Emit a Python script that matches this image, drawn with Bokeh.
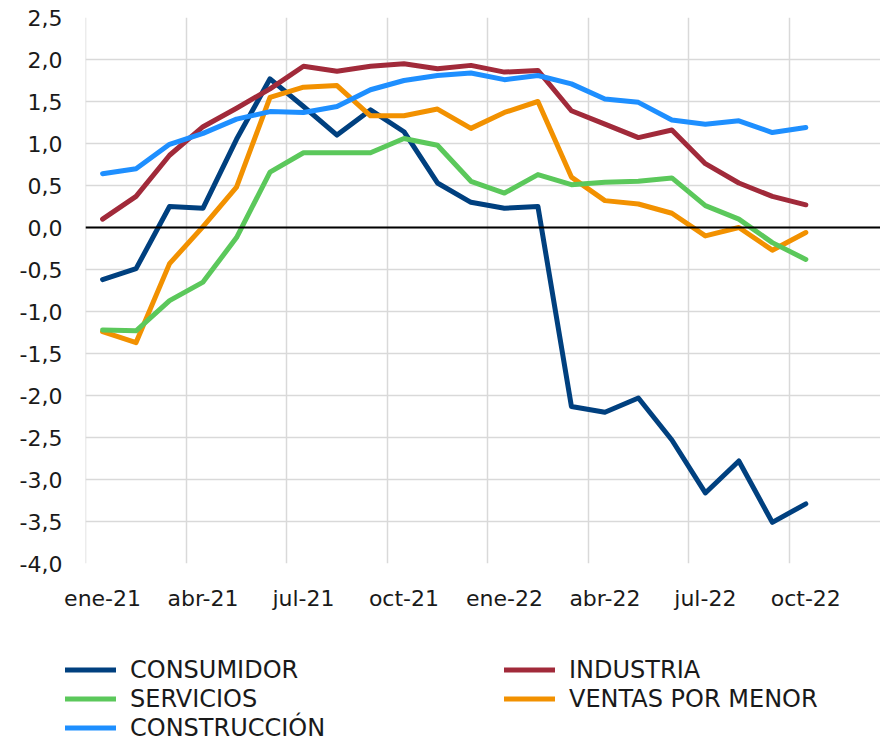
from bokeh.plotting import figure
from bokeh.models import (FixedTicker, CustomJSTickFormatter, Span, Legend, LegendItem, Range1d)
from bokeh.embed import file_html
from bokeh.resources import INLINE

months = ["ene-21", "feb-21", "mar-21", "abr-21", "may-21", "jun-21", "jul-21", "ago-21",
          "sep-21", "oct-21", "nov-21", "dic-21", "ene-22", "feb-22", "mar-22", "abr-22",
          "may-22", "jun-22", "jul-22", "ago-22", "sep-22", "oct-22"]

consumidor = [-0.62, -0.49, 0.25, 0.23, 1.05, 1.77, 1.44, 1.10, 1.40, 1.14, 0.53, 0.30,
              0.23, 0.25, -2.13, -2.20, -2.03, -2.53, -3.16, -2.78, -3.51, -3.29]
industria = [0.10, 0.37, 0.86, 1.20, 1.42, 1.65, 1.92, 1.86, 1.92, 1.95, 1.89, 1.93,
             1.85, 1.87, 1.39, 1.23, 1.07, 1.16, 0.76, 0.53, 0.37, 0.27]
servicios = [-1.22, -1.23, -0.87, -0.65, -0.12, 0.66, 0.89, 0.89, 0.89, 1.06, 0.98, 0.55,
             0.41, 0.63, 0.51, 0.54, 0.55, 0.59, 0.26, 0.10, -0.18, -0.38]
ventas = [-1.24, -1.37, -0.43, 0.01, 0.48, 1.55, 1.67, 1.69, 1.33, 1.33, 1.41, 1.18,
          1.37, 1.50, 0.60, 0.32, 0.28, 0.17, -0.10, 0.00, -0.27, -0.06]
construccion = [0.64, 0.70, 0.99, 1.12, 1.29, 1.38, 1.37, 1.44, 1.64, 1.75, 1.81, 1.84,
                1.76, 1.81, 1.71, 1.53, 1.49, 1.28, 1.23, 1.27, 1.13, 1.19]

series_names = ["CONSUMIDOR", "INDUSTRIA", "SERVICIOS", "VENTAS POR MENOR", "CONSTRUCCIÓN"]
colors = ["#00407F", "#A12A3A", "#5BC85B", "#F29100", "#1E8FFF"]

y_ticks = [-4.0, -3.5, -3.0, -2.5, -2.0, -1.5, -1.0, -0.5, 0.0, 0.5, 1.0, 1.5, 2.0, 2.5]

FONT = "DejaVu Sans"
TEXT_COLOR = "#1a1a1a"

x = list(range(len(months)))
data = {"CONSUMIDOR": consumidor, "INDUSTRIA": industria, "SERVICIOS": servicios,
        "VENTAS POR MENOR": ventas, "CONSTRUCCIÓN": construccion}
draw_order = ["CONSUMIDOR", "INDUSTRIA", "VENTAS POR MENOR", "SERVICIOS", "CONSTRUCCIÓN"]

# ---------------- main chart ----------------
p = figure(width=880, height=645, output_backend="svg", toolbar_location=None,
           x_range=Range1d(-0.51, 23.23), y_range=Range1d(-4.0, 2.5),
           min_border_left=85, min_border_top=17, min_border_right=0, min_border_bottom=82)
p.outline_line_color = None
p.background_fill_color = "white"
p.border_fill_color = "white"

p.xgrid.ticker = FixedTicker(ticks=[-0.5 + 3 * k for k in range(9)])
p.ygrid.ticker = FixedTicker(ticks=y_ticks)
for g in (p.xgrid, p.ygrid):
    g.grid_line_color = "#D9D9D9"
    g.grid_line_width = 1.5

p.xaxis.ticker = FixedTicker(ticks=list(range(0, len(months), 3)))
p.xaxis.major_label_overrides = {i: months[i] for i in range(0, len(months), 3)}
p.yaxis.ticker = FixedTicker(ticks=y_ticks)
p.yaxis.formatter = CustomJSTickFormatter(code="return tick.toFixed(1).replace('.', ',');")
for ax in (p.xaxis, p.yaxis):
    ax.axis_line_color = None
    ax.major_tick_line_color = None
    ax.minor_tick_line_color = None
    ax.major_tick_out = 0
    ax.major_tick_in = 0
    ax.major_label_text_font = FONT
    ax.major_label_text_font_size = "22px"
    ax.major_label_text_color = TEXT_COLOR
p.yaxis.major_label_standoff = 23
p.xaxis.major_label_standoff = 22

p.add_layout(Span(location=0, dimension="width", line_color="black", line_width=2))

for name in draw_order:
    c = colors[series_names.index(name)]
    p.line(x, data[name], line_color=c, line_width=5, line_join="round", line_cap="round")

# ---------------- legend strip ----------------
lf = figure(width=880, height=95, output_backend="svg", toolbar_location=None,
            x_range=Range1d(100, 101), y_range=Range1d(100, 101),
            min_border=0, min_border_left=0, min_border_right=0,
            min_border_top=0, min_border_bottom=0)
lf.outline_line_color = None
lf.axis.visible = False
lf.grid.visible = False
lf.background_fill_color = "white"
lf.border_fill_color = "white"

leg_renderers = {}
for name in series_names:
    c = colors[series_names.index(name)]
    leg_renderers[name] = lf.line(x, data[name], line_color=c, line_width=5,
                                  line_join="round", line_cap="round")

def make_legend(names, loc):
    lg = Legend(items=[LegendItem(label=n, renderers=[leg_renderers[n]]) for n in names],
                location=loc, orientation="vertical")
    lg.background_fill_alpha = 0
    lg.border_line_color = None
    lg.padding = 0
    lg.margin = 0
    lg.spacing = 0
    lg.glyph_width = 51
    lg.glyph_height = 29
    lg.label_height = 29
    lg.label_standoff = 14
    lg.label_text_font = FONT
    lg.label_text_font_size = "24px"
    lg.label_text_color = TEXT_COLOR
    lg.label_text_baseline = "middle"
    return lg

lf.add_layout(make_legend(["CONSUMIDOR", "SERVICIOS", "CONSTRUCCIÓN"], (65, -2)), "center")
lf.add_layout(make_legend(["INDUSTRIA", "VENTAS POR MENOR"], (504, 27)), "center")

open("out.html", "w").write(file_html([p, lf], INLINE))
